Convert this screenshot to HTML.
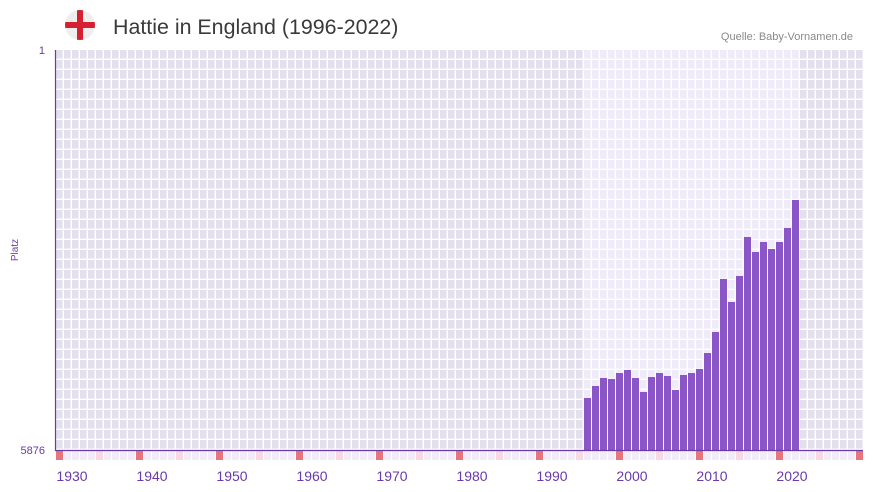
<!DOCTYPE html>
<html><head><meta charset="utf-8"><style>
html,body{margin:0;padding:0;background:#fff;width:873px;height:492px;overflow:hidden;font-family:"Liberation Sans",sans-serif}
</style></head><body>
<svg id="s" width="873" height="492" xmlns="http://www.w3.org/2000/svg">
<defs>
<pattern id="gOut" x="56" y="50" width="8" height="10" patternUnits="userSpaceOnUse">
<rect width="8" height="10" fill="#fff"/><rect width="6.6" height="8.6" fill="#e3dfec"/></pattern>
<pattern id="gIn" x="56" y="50" width="8" height="10" patternUnits="userSpaceOnUse">
<rect width="8" height="10" fill="#fff"/><rect width="6.6" height="8.6" fill="#efebf8"/></pattern>
<clipPath id="fc"><circle cx="80" cy="25" r="15"/></clipPath>
</defs>
<circle cx="80" cy="25" r="15" fill="#eeeeee"/>
<g clip-path="url(#fc)"><rect x="77" y="10" width="6" height="30" fill="#d42030"/><rect x="65" y="22" width="30" height="6" fill="#d42030"/></g>
<text x="113" y="34" font-size="21.4" fill="#3a3a3a">Hattie in England (1996-2022)</text>
<text x="853" y="40" font-size="11" fill="#8a8a8a" text-anchor="end">Quelle: Baby-Vornamen.de</text>
<rect x="56" y="50" width="807" height="400" fill="url(#gOut)"/>
<rect x="584" y="50" width="216" height="400" fill="url(#gIn)"/>
<g id="bars"></g>
<g id="strip"></g>
<line x1="55.5" y1="50" x2="55.5" y2="451" stroke="#6a3aa8" stroke-width="1.2"/>
<line x1="55" y1="450.5" x2="863" y2="450.5" stroke="#6a3aa8" stroke-width="1.2"/>
<text x="45" y="54" font-size="11" fill="#6a3aa8" text-anchor="end">1</text>
<text x="45" y="454" font-size="11" fill="#6a3aa8" text-anchor="end">5876</text>
<text x="18" y="250" font-size="10" fill="#6a3aa8" text-anchor="middle" transform="rotate(-90 18 250)">Platz</text>
<g id="xl" font-size="14" fill="#6a3aa8" text-anchor="middle"></g>
</svg>
<script>
var ns="http://www.w3.org/2000/svg";
function el(p,t,a){var e=document.createElementNS(ns,t);for(var k in a)e.setAttribute(k,a[k]);document.getElementById(p).appendChild(e);return e;}
var tops=[398,386,378,379,373,370,378,392,377,373,376,390,375,373,369,353,332,279,302,276,237,252,242,249,242,228,200];
tops.forEach(function(t,i){el("bars","rect",{x:584+i*8,y:t,width:7,height:450-t,fill:"#8a55c6"});});
for(var i=0;i<101;i++){var y=1928+i,c=(y%10==8)?"#e8747c":(y%10==3)?"#f6d9e3":"#f1ecf8";
el("strip","rect",{x:56+i*8,y:451,width:7,height:9,fill:c});}
for(var y=1930;y<=2020;y+=10){var t=el("xl","text",{x:76+(y-1930)*8-4,y:481});t.textContent=y;}
</script>
</body></html>
